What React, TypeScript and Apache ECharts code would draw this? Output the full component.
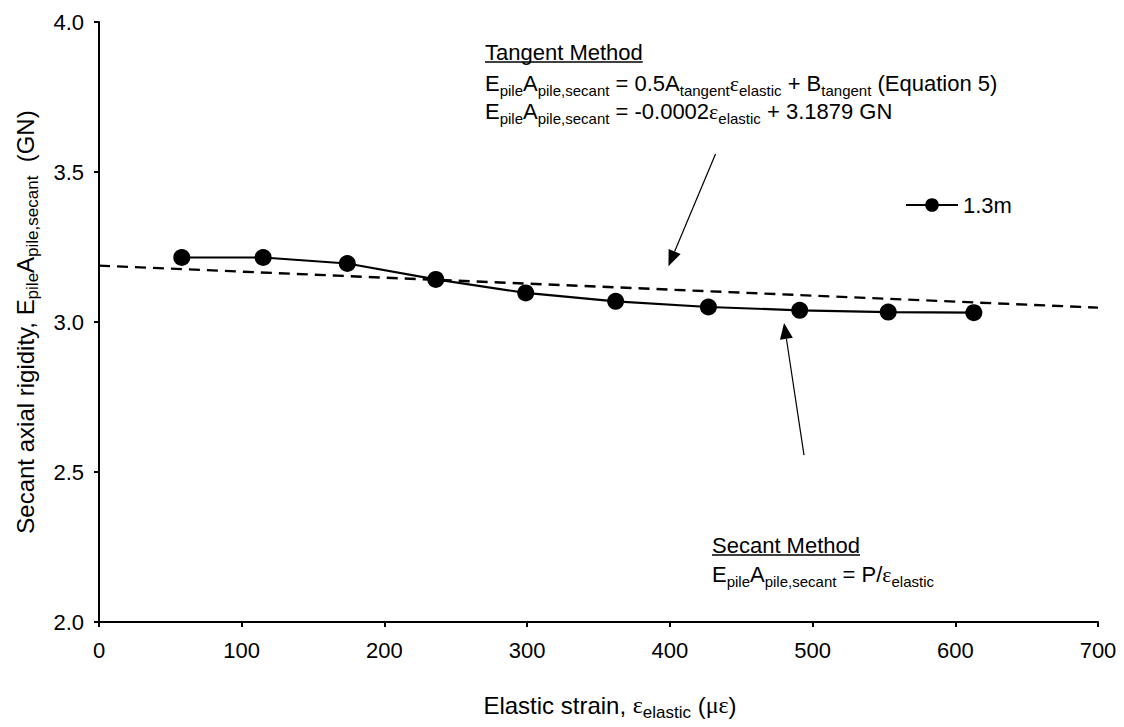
import React, { useEffect, useRef } from "react";
import * as echarts from "echarts";

// ---- data ----
const seriesName = "1.3m";
const strain = [58, 115, 174, 236, 299, 362, 427, 491, 553, 613];
const rigidity = [3.215, 3.215, 3.195, 3.142, 3.097, 3.069, 3.05, 3.039, 3.033, 3.031];
const trendStrain = [0, 700];
const trendRigidity = [3.1879, 3.0479];
const xMin = 0, xMax = 700, xStep = 100;
const yMin = 2, yMax = 4, yStep = 0.5;
// annotation arrows, in data coordinates [strain, rigidity]
const tangentArrowFrom = [432, 3.56];
const tangentArrowTo = [399, 3.186];
const secantArrowFrom = [494, 2.556];
const secantArrowTo = [480, 2.997];

const FONT = "'Liberation Sans', Arial, sans-serif";
const SERIF = "'Liberation Serif', 'Times New Roman', serif";
const FS = 22;
const SUB = 15;
const LH = 30;
const TFS = 24;
const TSUB = 17;
const TLH = 32;

const rich: any = {
  n: { fontSize: FS, fontFamily: FONT, lineHeight: LH, fill: "#000" },
  s: { fontSize: SUB, fontFamily: FONT, lineHeight: SUB, verticalAlign: "bottom", fill: "#000" },
  g: { fontSize: FS, fontFamily: SERIF, lineHeight: LH, fill: "#000" },
  tn: { fontSize: TFS, fontFamily: FONT, lineHeight: TLH, fill: "#000" },
  ts: { fontSize: TSUB, fontFamily: FONT, lineHeight: TSUB, verticalAlign: "bottom", fill: "#000" },
  tg: { fontSize: TFS, fontFamily: SERIF, lineHeight: TLH, fill: "#000" },
};

function measure(text: string) {
  const c = document.createElement("canvas").getContext("2d");
  if (!c) return text.length * FS * 0.55;
  c.font = `${FS}px ${FONT}`;
  return c.measureText(text).width;
}

function richText(text: string, x: number, y: number, extra: any = {}) {
  return {
    type: "text",
    x,
    y,
    ...extra,
    style: {
      text,
      rich,
      font: `${FS}px ${FONT}`,
      fill: "#000",
      align: extra.align || "left",
      verticalAlign: extra.verticalAlign || "top",
      textAlign: extra.align || "left",
      textVerticalAlign: extra.verticalAlign || "top",
    },
  };
}

function arrow(p0: number[], p1: number[]) {
  const dx = p1[0] - p0[0];
  const dy = p1[1] - p0[1];
  const len = Math.sqrt(dx * dx + dy * dy);
  const ux = dx / len, uy = dy / len;
  const headLen = 16, headHalf = 6.5;
  const bx = p1[0] - ux * headLen, by = p1[1] - uy * headLen;
  const px = -uy, py = ux;
  return [
    {
      type: "line",
      shape: { x1: p0[0], y1: p0[1], x2: bx, y2: by },
      style: { stroke: "#000", lineWidth: 1.2 },
    },
    {
      type: "polygon",
      shape: {
        points: [
          [p1[0], p1[1]],
          [bx + px * headHalf, by + py * headHalf],
          [bx - px * headHalf, by - py * headHalf],
        ],
      },
      style: { fill: "#000" },
    },
  ];
}

function underline(x: number, y: number, text: string) {
  return {
    type: "line",
    shape: { x1: x, y1: y, x2: x + measure(text), y2: y },
    style: { stroke: "#000", lineWidth: 1.3 },
  };
}

export default function App() {
  const ref = useRef<HTMLDivElement>(null);
  useEffect(() => {
    if (!ref.current) return;
    const chart = echarts.init(ref.current, null, { renderer: "svg" });
    const axisLine = { lineStyle: { color: "#000", width: 2 } };
    chart.setOption({
      animation: false,
      backgroundColor: "#fff",
      grid: { left: 99, right: 26, top: 22, bottom: 105 },
      legend: {
        data: [seriesName],
        left: 900,
        top: 189,
        itemWidth: 52,
        itemHeight: 17,
        textStyle: { fontSize: FS, fontFamily: FONT, color: "#000" },
      },
      xAxis: {
        type: "value",
        min: xMin,
        max: xMax,
        interval: xStep,
        axisLine,
        axisTick: { show: true, length: 5, lineStyle: { color: "#000", width: 2 } },
        splitLine: { show: false },
        axisLabel: { fontSize: FS, fontFamily: FONT, color: "#000", margin: 17 },
      },
      yAxis: {
        type: "value",
        min: yMin,
        max: yMax,
        interval: yStep,
        axisLine: { show: true, ...axisLine },
        axisTick: { show: true, length: 5, lineStyle: { color: "#000", width: 2 } },
        splitLine: { show: false },
        axisLabel: {
          fontSize: FS,
          fontFamily: FONT,
          color: "#000",
          margin: 15,
          formatter: (v: number) => v.toFixed(1),
        },
      },
      series: [
        {
          type: "line",
          name: "trend",
          data: trendStrain.map((x, i) => [x, trendRigidity[i]]),
          symbol: "none",
          lineStyle: { color: "#000", width: 2.4, type: [11, 7] },
          z: 1,
          silent: true,
        },
        {
          type: "line",
          name: seriesName,
          data: strain.map((x, i) => [x, rigidity[i]]),
          symbol: "circle",
          symbolSize: 17,
          lineStyle: { color: "#000", width: 2.2 },
          itemStyle: { color: "#000" },
          z: 3,
        },
      ],
    });

    const px = (p: number[]) => chart.convertToPixel({ gridIndex: 0 }, p) as number[];

    const tx = 485;
    const sx = 712;
    const graphic: any[] = [
      // Tangent method block
      richText("{n|Tangent Method}", tx, 37),
      underline(tx, 62, "Tangent Method"),
      richText(
        "{n|E}{s|pile}{n|A}{s|pile,secant}{n| = 0.5A}{s|tangent}{g|ε}{s|elastic}{n| + B}{s|tangent}{n| (Equation 5)}",
        tx,
        68
      ),
      richText(
        "{n|E}{s|pile}{n|A}{s|pile,secant}{n| = -0.0002}{g|ε}{s|elastic}{n| + 3.1879 GN}",
        tx,
        96
      ),
      // Secant method block
      richText("{n|Secant Method}", sx, 530),
      underline(sx, 555, "Secant Method"),
      richText("{n|E}{s|pile}{n|A}{s|pile,secant}{n| = P/}{g|ε}{s|elastic}", sx, 559),
      // axis titles
      richText("{tn|Secant axial rigidity, E}{ts|pile}{tn|A}{ts|pile,secant}{tn|  (GN)}", 25, 322, {
        rotation: Math.PI / 2,
        align: "center",
        verticalAlign: "middle",
      }),
      richText("{tn|Elastic strain, }{tg|ε}{ts|elastic}{tn| (}{tg|με}{tn|)}", 610, 705, {
        align: "center",
        verticalAlign: "middle",
      }),
      ...arrow(px(tangentArrowFrom), px(tangentArrowTo)),
      ...arrow(px(secantArrowFrom), px(secantArrowTo)),
    ];
    chart.setOption({ graphic });

    return () => chart.dispose();
  }, []);
  return (
    <div
      ref={ref}
      style={{ position: "fixed", left: 0, top: 0, width: 1124, height: 727, background: "#fff" }}
    />
  );
}
